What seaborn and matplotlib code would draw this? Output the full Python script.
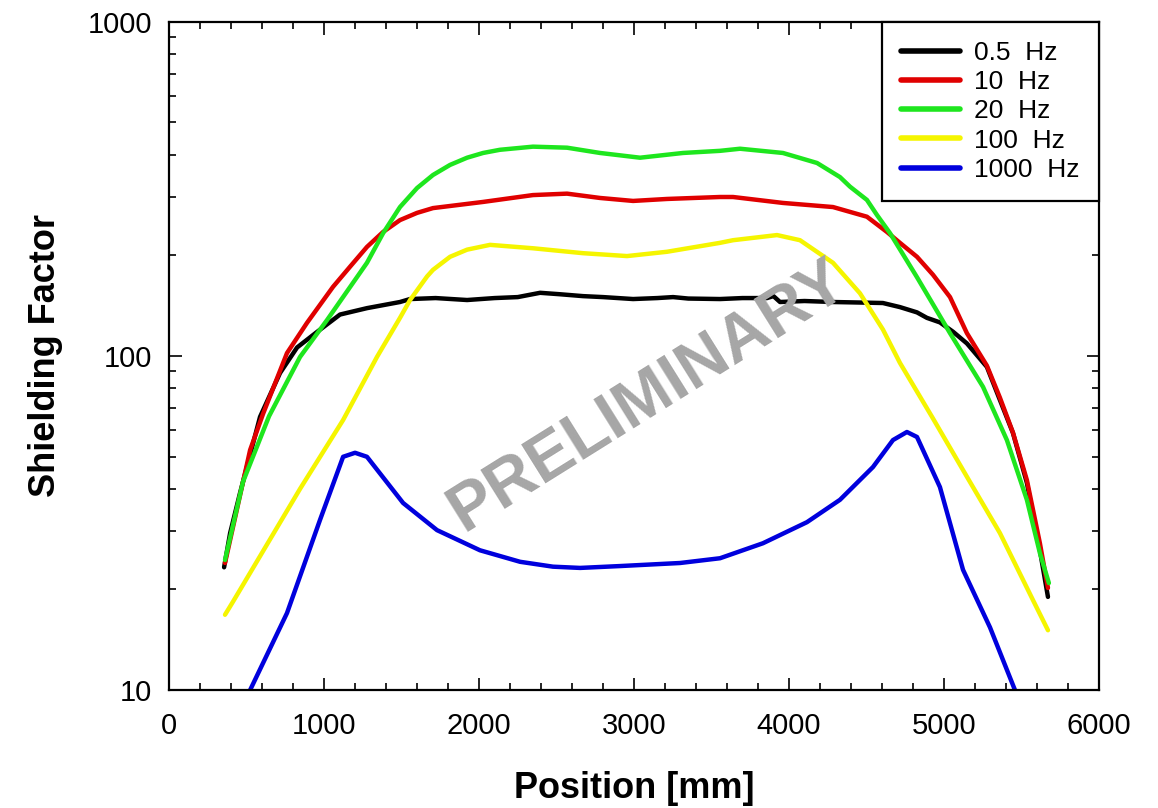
import numpy as np
import pandas as pd
import matplotlib
matplotlib.use("Agg")
import matplotlib.pyplot as plt
from matplotlib.ticker import FixedLocator, MultipleLocator, NullFormatter, FuncFormatter
import seaborn as sns

# Shielding factor vs. position along the shield, per excitation frequency
labels = ["0.5  Hz", "10  Hz", "20  Hz", "100  Hz", "1000  Hz"]
colors = ["#000000", "#e00000", "#1ee61e", "#f5f500", "#0000dd"]

pos_05 = [355, 394, 458, 587, 716, 826, 955, 1103, 1277, 1490, 1555, 1720, 1923, 2100, 2250,
          2394, 2520, 2671, 2800, 2994, 3150, 3252, 3350, 3555, 3700, 3858, 3900, 3942,
          4100, 4284, 4450, 4606, 4716, 4826, 4890, 4974, 5060, 5148, 5277, 5361, 5445,
          5535, 5619, 5671]
sf_05 = [23.3, 29.5, 38.9, 65.7, 88.9, 106, 118, 133, 139, 145, 148, 149, 147, 149, 150,
         154.5, 153, 151, 150, 148, 149, 150, 148.5, 148, 149, 149, 151, 145,
         146, 145, 144.5, 144, 140, 135, 130, 126, 118, 109, 92.7, 73.8, 58.8,
         41.7, 26.2, 19.0]

pos_10 = [361, 523, 606, 761, 890, 1058, 1168, 1277, 1381, 1490, 1600, 1703, 2026, 2348,
          2568, 2781, 2994, 3213, 3555, 3639, 3961, 4284, 4503, 4632, 4716, 4826, 4929,
          5039, 5148, 5277, 5361, 5445, 5535, 5619, 5671]
sf_10 = [24.0, 52.3, 67, 102, 125.6, 161, 185, 212, 235, 255, 268, 277, 289, 303,
         306, 297, 291, 295, 299, 299, 287, 279, 261, 235, 218, 198, 175,
         150, 117, 93.5, 75, 59, 42.5, 27.5, 20.2]

pos_20 = [361, 477, 645, 845, 1019, 1277, 1381, 1490, 1600, 1703, 1813, 1923, 2026, 2135,
          2348, 2568, 2781, 3039, 3316, 3555, 3684, 3961, 4181, 4329, 4394, 4503, 4568,
          4652, 4826, 5039, 5252, 5406, 5535, 5619, 5677]
sf_20 = [24.5, 42, 66, 99.3, 128, 190, 233, 279, 318, 348, 373, 392, 405, 414,
         423, 420, 405, 392, 405, 411, 417, 405, 378, 343, 321, 293, 264,
         233, 172, 117, 80.8, 56.0, 37.1, 25.7, 20.9]

pos_100 = [361, 413, 845, 1123, 1342, 1490, 1555, 1665, 1703, 1813, 1923, 2071, 2348,
           2671, 2955, 3213, 3555, 3639, 3923, 4071, 4284, 4458, 4606, 4716, 4929, 5148,
           5361, 5574, 5671]
sf_100 = [16.8, 18.4, 40, 64.3, 99.4, 130, 147, 173, 181, 198, 208, 215, 210,
          203, 199, 205, 218, 222, 230, 222, 190, 154, 120, 95.3, 65, 43.5,
          29.5, 18.6, 15.1]

pos_1000 = [484, 523, 761, 974, 1123, 1200, 1277, 1510, 1729, 2006, 2265, 2477, 2652,
            2910, 3297, 3555, 3832, 4116, 4329, 4542, 4671, 4761, 4826, 4974, 5123, 5297,
            5458, 5500]
sf_1000 = [9.0, 10.0, 17.0, 32.3, 49.9, 51.3, 49.9, 36.3, 30.1, 26.2, 24.2, 23.4, 23.2,
           23.5, 24.0, 24.8, 27.5, 31.8, 37.1, 46.5, 56.0, 59.2, 57.2, 40.5, 22.9, 15.4,
           10.0, 9.3]

x_ticks = [0, 1000, 2000, 3000, 4000, 5000, 6000]
y_ticks = [10, 100, 1000]

series = [(pos_05, sf_05), (pos_10, sf_10), (pos_20, sf_20), (pos_100, sf_100), (pos_1000, sf_1000)]
frames = []
for lab, (p, s) in zip(labels, series):
    frames.append(pd.DataFrame({"Position": p, "Shielding": s, "Frequency": lab}))
df = pd.concat(frames, ignore_index=True)

sns.set_style("ticks")
plt.rcParams["font.family"] = ["Liberation Sans", "DejaVu Sans"]
for key in ("text.color", "axes.labelcolor", "xtick.color", "ytick.color", "axes.edgecolor"):
    plt.rcParams[key] = "black"

fig = plt.figure(figsize=(11.58, 8.08), dpi=100)
ax = fig.add_axes([0.146, 0.146, 0.803, 0.827])

sns.lineplot(data=df, x="Position", y="Shielding", hue="Frequency", hue_order=labels,
             palette=dict(zip(labels, colors)), sort=False, estimator=None,
             linewidth=3.2, ax=ax, legend=False)
for ln in ax.get_lines():
    ln.set_solid_joinstyle("round")
    ln.set_solid_capstyle("round")

ax.set_yscale("log")
ax.set_xlim(0, 6000)
ax.set_ylim(10, 1000)

ax.xaxis.set_major_locator(FixedLocator(x_ticks))
ax.xaxis.set_minor_locator(MultipleLocator(200))
ax.yaxis.set_major_locator(FixedLocator(y_ticks))
ax.yaxis.set_minor_locator(FixedLocator([m * d for d in (10, 100) for m in range(2, 10)]))
ax.yaxis.set_major_formatter(FuncFormatter(lambda v, _: f"{int(round(v))}"))
ax.yaxis.set_minor_formatter(NullFormatter())

for s in ax.spines.values():
    s.set_visible(True)
    s.set_color("black")
    s.set_linewidth(1.6)

ax.tick_params(which="both", direction="in", top=True, right=True, color="black", width=1.2)
ax.tick_params(which="major", length=9)
ax.tick_params(which="minor", length=5)
ax.tick_params(axis="x", which="major", labelsize=21, pad=16)
ax.tick_params(axis="y", which="major", labelsize=21, pad=12)

ax.set_xlabel("Position [mm]", fontsize=26, fontweight="bold", labelpad=22)
ax.set_ylabel("Shielding Factor", fontsize=26, fontweight="bold", labelpad=18)

handles = [plt.Line2D([], [], color=c, linewidth=4) for c in colors]
leg = ax.legend(handles, labels, loc="upper right", bbox_to_anchor=(1.0, 1.0),
                borderaxespad=0.0, fontsize=19, frameon=True, fancybox=False,
                edgecolor="black", handlelength=2.25, handletextpad=0.55,
                labelspacing=0.2, borderpad=0.72)
leg.get_frame().set_linewidth(1.6)
leg.get_frame().set_alpha(1)

ax.text(0.515, 0.439, "PRELIMINARY", transform=ax.transAxes, fontsize=48,
        fontweight="bold", color="#a6a6a6", rotation=32, ha="center", va="center",
        zorder=10)

fig.savefig("out.png", dpi=100)
